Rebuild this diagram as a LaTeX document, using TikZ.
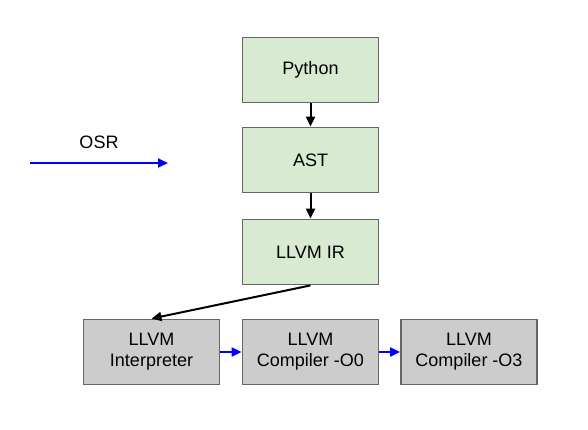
\documentclass[tikz,border=0pt]{standalone}
\usepackage{fontspec}
\setmainfont{Liberation Sans}
\usetikzlibrary{arrows.meta}
\definecolor{gfill}{HTML}{D9EAD3}
\definecolor{kfill}{HTML}{CCCCCC}
\definecolor{bord}{HTML}{666666}
\begin{document}
\begin{tikzpicture}[x=1pt,y=-1pt,
  box/.style={draw=bord,line width=1.8pt,minimum width=136pt,minimum height=65pt,align=center,font=\fontsize{18}{21}\selectfont,inner sep=0pt},
  green/.style={box,fill=gfill},
  grey/.style={box,fill=kfill},
  blk/.style={-{Triangle[length=10pt,width=9pt]},line width=2pt,black},
  blu/.style={-{Triangle[length=10pt,width=9pt]},line width=2pt,blue}]
\useasboundingbox (0,0) rectangle (588,429);
\fill[white] (0,0) rectangle (588,429);
\node[green] (py) at (310.5,70) {Python};
\node[green] (ast) at (310.5,160) {AST};
\node[green] (ir) at (310.5,252) {LLVM IR};
\node[grey] (interp) at (151.5,352) {LLVM\\Interpreter};
\node[grey] (c0) at (310.5,352) {LLVM\\Compiler -O0};
\node[grey] (c3) at (469,352) {LLVM\\Compiler -O3};
\coordinate (osrA) at (30,163);
\coordinate (osrB) at (168,163);
\node[font=\fontsize{18}{21}\selectfont] (osr) at (99,142) {OSR};
\draw[blk] (py) -- (ast);
\draw[blk] (ast) -- (ir);
\draw[blk] (ir.south) -- (interp.north);
\draw[blu] (interp) -- (c0);
\draw[blu] (c0) -- (c3);
\draw[blu] (osrA) -- (osrB);
\end{tikzpicture}
\end{document}
